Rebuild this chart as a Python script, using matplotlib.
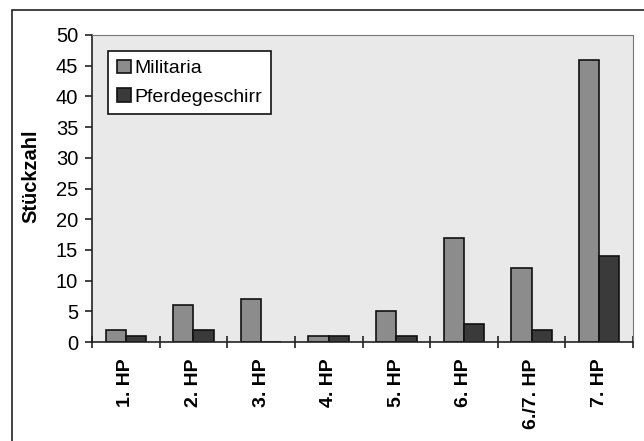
import numpy as np
from matplotlib import pyplot as plt
from matplotlib.patches import Rectangle

plt.rcParams['font.family'] = ['Liberation Sans', 'DejaVu Sans']

# Daten
categories = ['1. HP', '2. HP', '3. HP', '4. HP', '5. HP', '6. HP', '6./7. HP', '7. HP']
militaria = [2, 6, 7, 1, 5, 17, 12, 46]
pferdegeschirr = [1, 2, 0, 1, 1, 3, 2, 14]

fig = plt.figure(figsize=(6.44, 4.41), dpi=100)
fig.patch.set_facecolor('white')

# aeusserer Rahmen
fig.patches.append(Rectangle((12 / 644, -0.1), 1.2, 1 - 10 / 441 + 0.1,
                             transform=fig.transFigure, fill=False,
                             edgecolor='#222222', linewidth=1.2))

ax = fig.add_axes([92 / 644, 1 - 342 / 441, (633 - 92) / 644, (342 - 35) / 441])
ax.set_facecolor('#e9e9e9')

x = np.arange(len(categories))
w = 0.3
ax.bar(x - w / 2, militaria, w, color='#8c8c8c', edgecolor='#111111',
       linewidth=1.2, label='Militaria')
ax.bar(x + w / 2, pferdegeschirr, w, color='#3a3a3a', edgecolor='#111111',
       linewidth=1.2, label='Pferdegeschirr')

ax.set_xlim(-0.5, len(categories) - 0.5)
ax.set_ylim(0, 50)
ax.set_yticks(range(0, 51, 5))
ax.set_xticks(np.arange(len(categories) + 1) - 0.5, minor=False)
ax.set_xticklabels([])
ax.set_xticks(x, minor=True)
ax.set_xticklabels(categories, minor=True, rotation=90, fontweight='bold', fontsize=14)
ax.tick_params(axis='x', which='minor', length=0, pad=12)
ax.tick_params(axis='x', which='major', direction='inout', length=9, width=1.2, color='#222222')
ax.tick_params(axis='y', direction='out', length=5, width=1.2, labelsize=14.5,
               color='#222222', pad=5)

for s in ['top', 'right']:
    ax.spines[s].set_color('#777777')
    ax.spines[s].set_linewidth(0.8)
for s in ['left', 'bottom']:
    ax.spines[s].set_color('#222222')
    ax.spines[s].set_linewidth(1.2)

ax.set_ylabel('Stückzahl', fontweight='bold', fontsize=14.5)
ax.yaxis.set_label_coords(-0.095, 0.54)

leg = ax.legend(loc='upper left', bbox_to_anchor=(0.03, 0.948), fontsize=14,
                frameon=True, fancybox=False, handlelength=0.7, handleheight=0.7,
                handletextpad=0.2, labelspacing=0.55, borderpad=0.45,
                borderaxespad=0)
leg.get_frame().set_edgecolor('#111111')
leg.get_frame().set_linewidth(1.2)
leg.get_frame().set_facecolor('white')
leg.get_frame().set_alpha(1)

fig.savefig('out.png', dpi=100)
